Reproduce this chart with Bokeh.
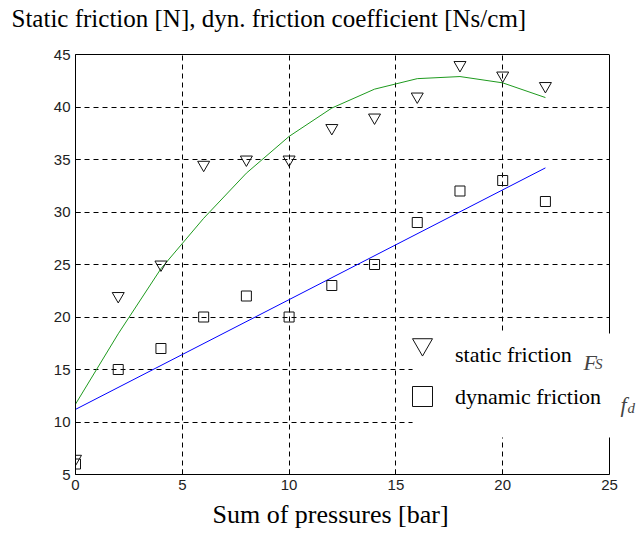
from bokeh.plotting import figure
from bokeh.models import (Range1d, FixedTicker, Legend, LegendItem, Label,
                          BoxAnnotation, Title, Span, LinearAxis)
from bokeh.embed import file_html
from bokeh.resources import INLINE

# ---- data ----
pressure = [0, 2, 4, 6, 8, 10, 12, 14, 16, 18, 20, 22]
static_friction = [6.5, 22, 25, 34.5, 35, 35, 38, 39, 41, 44, 43, 42]
dynamic_friction = [6, 15, 17, 20, 22, 20, 23, 25, 29, 32, 33, 31]
static_fit = [11.7, 18.4, 24.6, 29.4, 33.7, 37.2, 39.9, 41.7, 42.7, 42.9, 42.3, 40.9]
dynamic_fit_x = [0, 22]
dynamic_fit = [11.2, 34.2]
x_ticks = [0, 5, 10, 15, 20, 25]
y_ticks = [5, 10, 15, 20, 25, 30, 35, 40, 45]

title_text = "Static friction [N], dyn. friction coefficient [Ns/cm]"
xlabel_text = "Sum of pressures [bar]"
legend_labels = ["static friction", "dynamic friction"]

SERIF = "Liberation Serif"
SANS = "Liberation Sans"

X_MAX = 25
# the visible canvas continues right of the axes box (legend sticks out there)
X_VIEW = X_MAX * 564 / 534

p = figure(width=639, height=540, output_backend="svg", toolbar_location=None,
           x_range=Range1d(0, X_VIEW), y_range=Range1d(5, 45),
           min_border_left=75, min_border_right=0,
           min_border_top=54, min_border_bottom=66,
           background_fill_color="white", border_fill_color="white")
p.outline_line_color = None
bottom_axis = p.below[0]
left_axis = p.left[0]

for ax, ticks in ((bottom_axis, x_ticks), (left_axis, y_ticks)):
    ax.ticker = FixedTicker(ticks=ticks)
    ax.major_tick_in = 5
    ax.major_tick_out = 0
    ax.minor_tick_line_color = None
    ax.axis_line_color = "black"
    ax.major_tick_line_color = "black"
    ax.major_label_text_font = SANS
    ax.major_label_text_font_size = "15px"
    ax.major_label_text_color = "#222222"
    ax.major_label_standoff = 5
bottom_axis.bounds = (0, X_MAX)

# top edge of the axes box (no ticks, no labels)
top_axis = LinearAxis(ticker=FixedTicker(ticks=[]), bounds=(0, X_MAX),
                      major_tick_in=0, major_tick_out=0, major_label_standoff=0,
                      minor_tick_line_color=None, axis_line_color="black")
p.add_layout(top_axis, "above")
# empty spacer between the axes box and the title
p.add_layout(Title(text=" ", text_font_size="10px", standoff=10), "above")

p.title = Title(text=title_text, text_font=SERIF, text_font_size="25px",
                text_font_style="normal", text_color="black",
                align="left", offset=-64, standoff=0)
p.add_layout(Title(text=xlabel_text, text_font=SERIF, text_font_size="26px",
                   text_font_style="normal", text_color="black",
                   align="left", offset=137, standoff=11), "below")

p.xgrid.ticker = FixedTicker(ticks=x_ticks)
p.ygrid.ticker = FixedTicker(ticks=y_ticks)
for g in (p.xgrid, p.ygrid):
    g.grid_line_color = "black"
    g.grid_line_dash = "5 4"
    g.grid_line_width = 1

# fitted curves
p.line(pressure, static_fit, line_color="#1e9a1e", line_width=1)
p.line(dynamic_fit_x, dynamic_fit, line_color="#0000ff", line_width=1)

# measured points
r_s = p.scatter(pressure, static_friction, marker="inverted_triangle", size=12,
                line_color="#111111", fill_alpha=0, line_width=1)
r_d = p.scatter(pressure, dynamic_friction, marker="square", size=10,
                line_color="#111111", fill_alpha=0, line_width=1)

# blank area right of the axes box
p.add_layout(BoxAnnotation(left=X_MAX, fill_color="white", fill_alpha=1,
                           line_alpha=0))

# right edge of the axes box
p.add_layout(Span(location=X_MAX, dimension="height", line_color="black",
                  line_width=1))

# legend background (white box, no border)
p.add_layout(BoxAnnotation(left=15.78, bottom=8.52, top=18.43,
                           fill_color="white", fill_alpha=1, line_alpha=0))

# legend markers
legend_marks = Legend(items=[LegendItem(label="", renderers=[r_s]),
                             LegendItem(label="", renderers=[r_d])],
                      location=(322, 52), glyph_width=50, glyph_height=52,
                      padding=0, spacing=0, margin=0, label_standoff=0,
                      label_width=0, label_text_font_size="1px",
                      background_fill_alpha=0, border_line_alpha=0)
p.add_layout(legend_marks)

# legend texts
legend_text = Legend(items=[LegendItem(label=legend_labels[0], renderers=[r_s]),
                            LegendItem(label=legend_labels[1], renderers=[r_d])],
                     location=(380, 56), glyph_width=0, glyph_height=42,
                     padding=0, spacing=0, margin=0, label_standoff=0,
                     background_fill_alpha=0, border_line_alpha=0,
                     label_text_font=SERIF, label_text_font_size="22px",
                     label_text_color="black")
p.add_layout(legend_text)

# italic symbols of the legend entries
def sym(x, y, t, size):
    p.add_layout(Label(x=x, y=y, text=t, text_font=SERIF,
                       text_font_style="italic", text_font_size=size,
                       text_baseline="alphabetic", text_align="left"))

sym(23.78, 15.64, "F", "22px")
sym(24.32, 15.54, "S", "15px")
sym(25.51, 11.62, "f", "22px")
sym(25.84, 11.38, "d", "15px")

open("out.html", "w").write(file_html(p, INLINE))
